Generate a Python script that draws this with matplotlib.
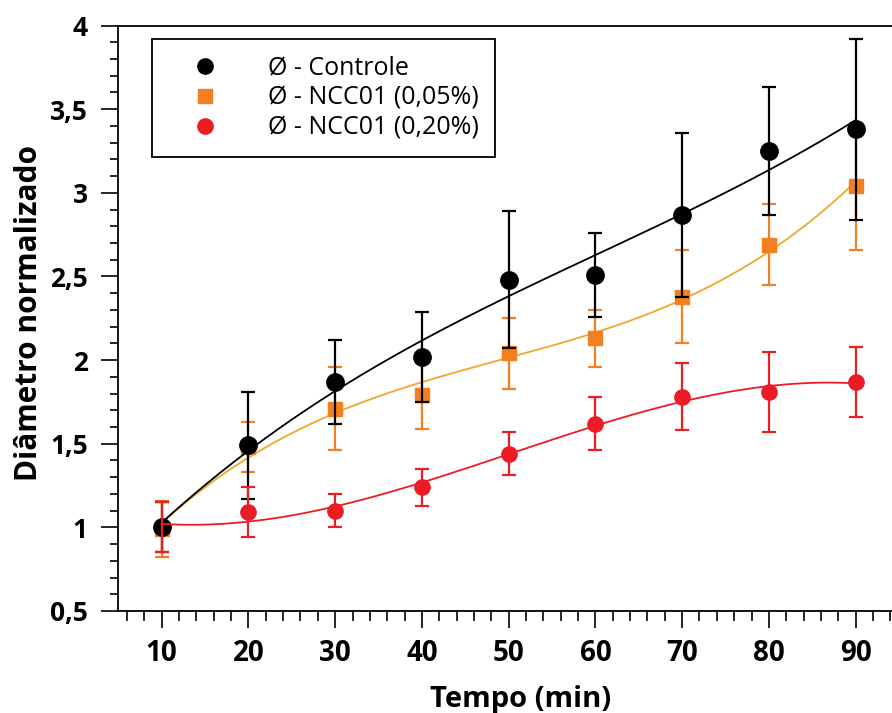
import numpy as np
import matplotlib
matplotlib.use("Agg")
import matplotlib.pyplot as plt
from matplotlib.ticker import MultipleLocator, FuncFormatter
from matplotlib.lines import Line2D

plt.rcParams['font.family'] = ['Open Sans', 'DejaVu Sans']

tempo = [10, 20, 30, 40, 50, 60, 70, 80, 90]

controle = [1.00, 1.49, 1.87, 2.02, 2.48, 2.51, 2.87, 3.25, 3.38]
controle_err = [0.15, 0.32, 0.25, 0.27, 0.41, 0.25, 0.49, 0.38, 0.54]

ncc005 = [0.99, 1.48, 1.71, 1.79, 2.04, 2.13, 2.38, 2.69, 3.04]
ncc005_err = [0.17, 0.15, 0.25, 0.20, 0.21, 0.17, 0.28, 0.24, 0.38]

ncc020 = [1.00, 1.09, 1.10, 1.24, 1.44, 1.62, 1.78, 1.81, 1.87]
ncc020_err = [0.15, 0.15, 0.10, 0.11, 0.13, 0.16, 0.20, 0.24, 0.21]

labels = ['Ø - Controle', 'Ø - NCC01 (0,05%)', 'Ø - NCC01 (0,20%)']

W, H = 892, 713
fig = plt.figure(figsize=(W / 100, H / 100), dpi=100)
x0, x1 = 118.3, 899.0
y0, y1 = 611.0, 25.5
ax = fig.add_axes([x0 / W, 1 - y0 / H, (x1 - x0) / W, (y0 - y1) / H])
ax.set_xlim(5, 95)
ax.set_ylim(0.5, 4.0)

c_black = '#000000'
c_orange = '#F47F20'
c_orange_line = '#F2A62A'
c_red = '#EC1C24'

t = np.array(tempo, dtype=float)
xs = np.linspace(10, 90, 300)

def fit(vals, deg):
    p = np.polyfit(t, np.array(vals), deg)
    return np.polyval(p, xs)

cap = 4.8
ew = 1.6
# orange
ax.plot(xs, fit(ncc005, 3), color=c_orange_line, lw=1.3, zorder=2)
ax.errorbar(tempo, ncc005, yerr=ncc005_err, fmt='s', color=c_orange, ms=10,
            ecolor=c_orange, elinewidth=ew, capsize=cap, capthick=ew, zorder=2)
# red (markers beneath black)
ax.plot(xs, fit(ncc020, 3), color=c_red, lw=1.3, zorder=4)
er = ax.errorbar(tempo, ncc020, yerr=ncc020_err, fmt='o', color=c_red, ms=11,
                 ecolor=c_red, elinewidth=ew, capsize=cap, capthick=ew, zorder=4)
er[0].set_zorder(2.5)
# black
ax.plot(xs, fit(controle, 3), color=c_black, lw=1.3, zorder=3)
ax.errorbar(tempo, controle, yerr=controle_err, fmt='o', color=c_black, ms=12.5,
            ecolor=c_black, elinewidth=ew, capsize=cap, capthick=ew, zorder=3)

ax.xaxis.set_major_locator(MultipleLocator(10))
ax.xaxis.set_minor_locator(MultipleLocator(2))
ax.yaxis.set_major_locator(MultipleLocator(0.5))
ax.yaxis.set_minor_locator(MultipleLocator(0.1))

def yfmt(v, pos):
    if abs(v - round(v)) < 1e-9:
        return str(int(round(v)))
    return ('%.1f' % v).replace('.', ',')

ax.yaxis.set_major_formatter(FuncFormatter(yfmt))
ax.set_xticks([10, 20, 30, 40, 50, 60, 70, 80, 90])

for s in ['left', 'bottom', 'top']:
    ax.spines[s].set_linewidth(1.3)
ax.spines['right'].set_visible(False)

ax.tick_params(axis='both', which='major', direction='out', length=12, width=1.2)
ax.tick_params(axis='x', which='major', labelsize=20, pad=8)
ax.tick_params(axis='y', which='major', labelsize=19, pad=10)
ax.tick_params(axis='x', which='minor', direction='out', length=7, width=1.2)
ax.tick_params(axis='y', which='minor', direction='out', length=5.5, width=1.2)
for lab in ax.get_xticklabels() + ax.get_yticklabels():
    lab.set_fontweight('bold')

ax.set_xlabel('Tempo (min)', fontsize=21, fontweight='bold')
ax.xaxis.set_label_coords((521 - x0) / (x1 - x0), -(685 - y0) / (y0 - y1))
ax.set_ylabel('Diâmetro normalizado', fontsize=21.5, fontweight='bold')
ax.yaxis.set_label_coords(-(x0 - 44) / (x1 - x0), (y0 - 313) / (y0 - y1))

handles = [
    Line2D([], [], ls='none', marker='o', color=c_black, ms=11),
    Line2D([], [], ls='none', marker='s', color=c_orange, ms=10),
    Line2D([], [], ls='none', marker='o', color=c_red, ms=11),
]
leg = ax.legend(handles, labels, loc='upper left',
                bbox_to_anchor=((152 - x0) / (x1 - x0), (y0 - 39) / (y0 - y1)),
                borderaxespad=0, fontsize=18, frameon=True, fancybox=False,
                edgecolor='black', framealpha=1, handlelength=2.9,
                handletextpad=1.1, borderpad=0.65, labelspacing=0.2)
leg.get_frame().set_linewidth(1.3)

fig.savefig('out.png', dpi=100)
